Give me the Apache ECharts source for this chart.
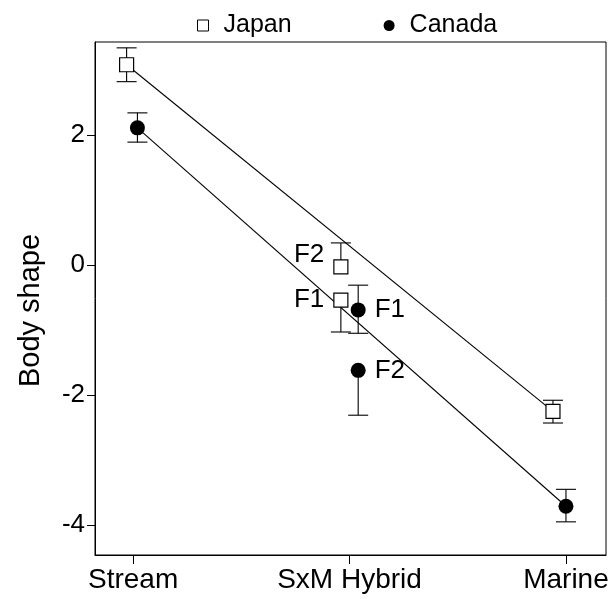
<!DOCTYPE html>
<html>
<head>
<meta charset="utf-8">
<style>
  html, body { margin: 0; padding: 0; background: #fff; }
  #chart { width: 614px; height: 599px; }
</style>
<script src="https://cdn.jsdelivr.net/npm/echarts@6/dist/echarts.min.js"></script>
</head>
<body>
<div id="chart"></div>
<script>
// stage positions on the x axis (0 = Stream, 1 = hybrid, 2 = Marine)
const stages = ["Stream", "SxM Hybrid", "Marine"];
const yTicks = [-4, -2, 0, 2];

// Japan: Stream, F2, F1, Marine
const japanX = [-0.03, 0.96, 0.96, 1.94];
const japanY = [3.08, -0.03, -0.54, -2.25];
const japanLow = [2.82, -0.03, -1.03, -2.43];
const japanHigh = [3.34, 0.34, -0.54, -2.08];
const japanTags = ["", "F2", "F1", ""];

// Canada: Stream, F1, F2, Marine
const canadaX = [0.02, 1.04, 1.04, 2.0];
const canadaY = [2.11, -0.69, -1.62, -3.71];
const canadaLow = [1.89, -1.05, -2.31, -3.95];
const canadaHigh = [2.34, -0.31, -1.62, -3.45];
const canadaTags = ["", "F1", "F2", ""];

const font = "'Liberation Sans', Arial, sans-serif";

function points(xs, ys, tags, side) {
  return xs.map(function (x, i) {
    var item = { value: [x, ys[i]] };
    if (tags[i]) {
      item.label = {
        show: true,
        formatter: tags[i],
        position: side,
        distance: 9,
        offset: side === "left" && tags[i] === "F2" ? [0, -12] : [0, 0],
      };
    }
    return item;
  });
}

function bars(xs, ys, lo, hi) {
  return xs.map(function (x, i) {
    return [x, ys[i], lo[i], hi[i]];
  });
}

function renderErrorBar(params, api) {
  var x = api.value(0), v = api.value(1), lo = api.value(2), hi = api.value(3);
  var pLo = api.coord([x, lo]);
  var pHi = api.coord([x, hi]);
  var w = 10;
  var style = { stroke: "#000", lineWidth: 1.1 };
  var children = [
    { type: "line", shape: { x1: pLo[0], y1: pLo[1], x2: pHi[0], y2: pHi[1] }, style: style },
  ];
  if (lo < v) {
    children.push({ type: "line", shape: { x1: pLo[0] - w, y1: pLo[1], x2: pLo[0] + w, y2: pLo[1] }, style: style });
  }
  if (hi > v) {
    children.push({ type: "line", shape: { x1: pHi[0] - w, y1: pHi[1], x2: pHi[0] + w, y2: pHi[1] }, style: style });
  }
  return { type: "group", children: children };
}

const chart = echarts.init(document.getElementById("chart"));

var option = {
  animation: false,
  textStyle: { fontFamily: font, color: "#000" },
  legend: {
    left: 192,
    top: 8,
    itemWidth: 11,
    itemHeight: 11,
    itemGap: 92,
    selectedMode: false,
    textStyle: { fontFamily: font, fontSize: 25, color: "#000", padding: [0, 0, 0, 10] },
    data: [
      { name: "Japan", icon: "rect", itemStyle: { color: "#fff", borderColor: "#000", borderWidth: 1 } },
      { name: "Canada", icon: "circle", itemStyle: { color: "#000" } },
    ],
  },
  grid: {
    left: 95,
    right: 8,
    top: 42,
    bottom: 44,
    show: true,
    borderColor: "#000",
    borderWidth: 1,
  },
  xAxis: {
    type: "value",
    min: -0.176,
    max: 2.185,
    splitLine: { show: false },
    axisLine: { onZero: false, lineStyle: { color: "#000", width: 1 } },
    axisTick: { customValues: [0, 1, 2], length: 9, lineStyle: { color: "#000" } },
    axisLabel: {
      customValues: [0, 1, 2],
      formatter: function (v) { return stages[Math.round(v)]; },
      fontSize: 28,
      color: "#000",
      fontFamily: font,
      margin: 11,
    },
  },
  yAxis: {
    type: "value",
    min: -4.46,
    max: 3.43,
    name: "Body shape",
    nameLocation: "middle",
    nameGap: 50,
    nameTextStyle: { fontSize: 29, color: "#000", fontFamily: font, padding: [0, 24, 0, 0] },
    splitLine: { show: false },
    axisLine: { show: true, onZero: false, lineStyle: { color: "#000", width: 1 } },
    axisTick: { customValues: yTicks, length: 8, lineStyle: { color: "#000" } },
    axisLabel: {
      customValues: yTicks,
      fontSize: 26,
      color: "#000",
      fontFamily: font,
      margin: 10,
    },
  },
  series: [
    {
      name: "japanFit",
      type: "line",
      symbol: "none",
      silent: true,
      z: 1,
      lineStyle: { color: "#000", width: 1.1 },
      data: [[japanX[0], japanY[0]], [japanX[3], japanY[3]]],
    },
    {
      name: "canadaFit",
      type: "line",
      symbol: "none",
      silent: true,
      z: 1,
      lineStyle: { color: "#000", width: 1.1 },
      data: [[canadaX[0], canadaY[0]], [canadaX[3], canadaY[3]]],
    },
    {
      name: "japanErr",
      type: "custom",
      z: 2,
      renderItem: renderErrorBar,
      data: bars(japanX, japanY, japanLow, japanHigh),
    },
    {
      name: "canadaErr",
      type: "custom",
      z: 2,
      renderItem: renderErrorBar,
      data: bars(canadaX, canadaY, canadaLow, canadaHigh),
    },
    {
      name: "Japan",
      type: "scatter",
      symbol: "rect",
      symbolSize: 14,
      z: 3,
      itemStyle: { color: "#fff", borderColor: "#000", borderWidth: 1.2, opacity: 1 },
      label: { fontSize: 26, color: "#000", fontFamily: font },
      data: points(japanX, japanY, japanTags, "left"),
    },
    {
      name: "Canada",
      type: "scatter",
      symbol: "circle",
      symbolSize: 15,
      z: 3,
      itemStyle: { color: "#000", opacity: 1 },
      label: { fontSize: 26, color: "#000", fontFamily: font },
      data: points(canadaX, canadaY, canadaTags, "right"),
    },
  ],
};

chart.setOption(option);
</script>
</body>
</html>
